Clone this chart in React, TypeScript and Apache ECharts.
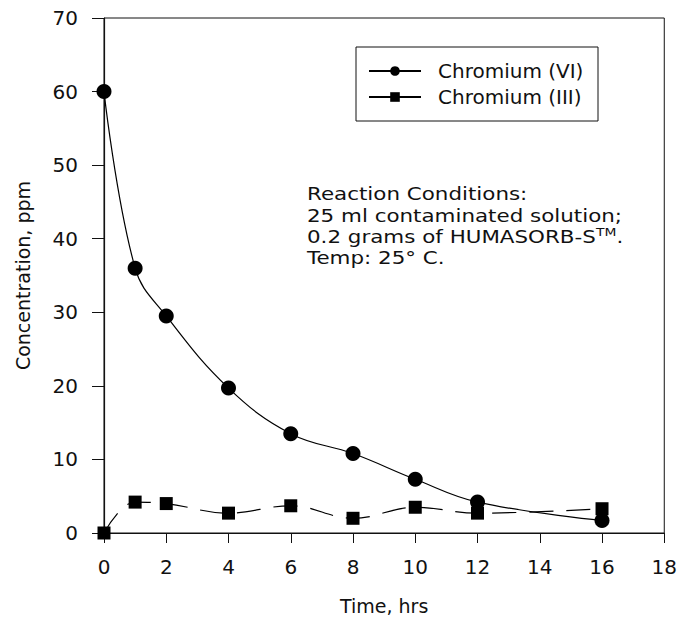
import React, { useEffect, useRef } from "react";
import * as echarts from "echarts";

// Sampling times (hours)
const times = [0, 1, 2, 4, 6, 8, 10, 12, 16];
// Measured concentrations (ppm)
const chromiumVI = [60, 36, 29.5, 19.7, 13.5, 10.8, 7.3, 4.2, 1.7];
const chromiumIII = [0, 4.2, 4.0, 2.7, 3.7, 2.0, 3.5, 2.7, 3.3];

const seriesNames = ["Chromium (VI)", "Chromium (III)"];
const conditionLines = [
  "Reaction Conditions:",
  "25 ml contaminated solution;",
  "0.2 grams of HUMASORB-S{sup|TM}.",
  "Temp: 25° C.",
];

const FONT = "'DejaVu Sans', Verdana, sans-serif";
const INK = "#111";

export default function App() {
  const ref = useRef<HTMLDivElement>(null);

  useEffect(() => {
    if (!ref.current) return;
    const chart = echarts.init(ref.current, undefined, { renderer: "svg" });

    const pairs = (vals: number[]) => times.map((t, i) => [t, vals[i]]);

    chart.setOption({
      animation: false,
      backgroundColor: "#fff",
      textStyle: { fontFamily: FONT, color: INK },
      grid: {
        left: 104,
        top: 18,
        right: 14,
        bottom: 88,
        show: true,
        borderColor: INK,
        borderWidth: 1,
      },
      xAxis: {
        type: "value",
        min: 0,
        max: 18,
        interval: 2,
        name: "Time, hrs",
        nameLocation: "middle",
        nameGap: 63,
        nameTextStyle: { fontSize: 19, fontFamily: FONT, color: INK },
        axisLine: { show: true, lineStyle: { color: INK, width: 1.2 } },
        axisTick: { show: true, inside: false, length: 10, lineStyle: { color: INK } },
        axisLabel: { fontSize: 20, margin: 24, color: INK, fontFamily: FONT },
        splitLine: { show: false },
      },
      yAxis: {
        type: "value",
        min: 0,
        max: 70,
        interval: 10,
        name: "Concentration, ppm",
        nameLocation: "middle",
        nameGap: 72,
        nameRotate: 90,
        nameTextStyle: { fontSize: 19, fontFamily: FONT, color: INK },
        axisLine: { show: true, lineStyle: { color: INK, width: 1.2 } },
        axisTick: { show: true, inside: false, length: 12, lineStyle: { color: INK } },
        axisLabel: { fontSize: 20, margin: 26, color: INK, fontFamily: FONT },
        splitLine: { show: false },
      },
      legend: {
        show: true,
        orient: "vertical",
        left: 368,
        top: 61,
        itemWidth: 52,
        itemHeight: 12,
        itemGap: 6,
        padding: 0,
        textStyle: {
          fontSize: 20,
          fontFamily: FONT,
          color: INK,
          padding: [0, 0, 0, 12],
        },
        data: [
          { name: seriesNames[0], lineStyle: { type: "solid" } },
          { name: seriesNames[1], lineStyle: { type: "solid" } },
        ],
      },
      graphic: [
        {
          type: "rect",
          shape: { x: 356, y: 47, width: 242, height: 74 },
          style: { fill: "none", stroke: INK, lineWidth: 1 },
          z: 10,
        },
        {
          type: "text",
          x: 307,
          y: 184,
          scaleX: 1.26,
          z: 10,
          style: {
            text: conditionLines.join("\n"),
            font: `17px ${FONT}`,
            fill: INK,
            lineHeight: 21.3,
            verticalAlign: "top",
            rich: {
              sup: {
                fontSize: 11,
                fontFamily: FONT,
                fill: INK,
                verticalAlign: "top",
                padding: [0, 0, 8, 0],
              },
            },
          },
        },
      ],
      series: [
        {
          name: seriesNames[0],
          type: "line",
          data: pairs(chromiumVI),
          smooth: 0.4,
          symbol: "circle",
          symbolSize: 15,
          itemStyle: { color: "#000" },
          lineStyle: { color: "#000", width: 1.2 },
          z: 3,
        },
        {
          name: seriesNames[1],
          type: "line",
          data: pairs(chromiumIII),
          smooth: 0.4,
          symbol: "rect",
          symbolSize: 13,
          itemStyle: { color: "#000" },
          lineStyle: { color: "#000", width: 1.2, type: [24, 13] },
          z: 2,
        },
      ],
    });

    return () => chart.dispose();
  }, []);

  return (
    <div
      ref={ref}
      style={{ position: "fixed", left: 0, top: 0, width: 680, height: 621 }}
    />
  );
}
